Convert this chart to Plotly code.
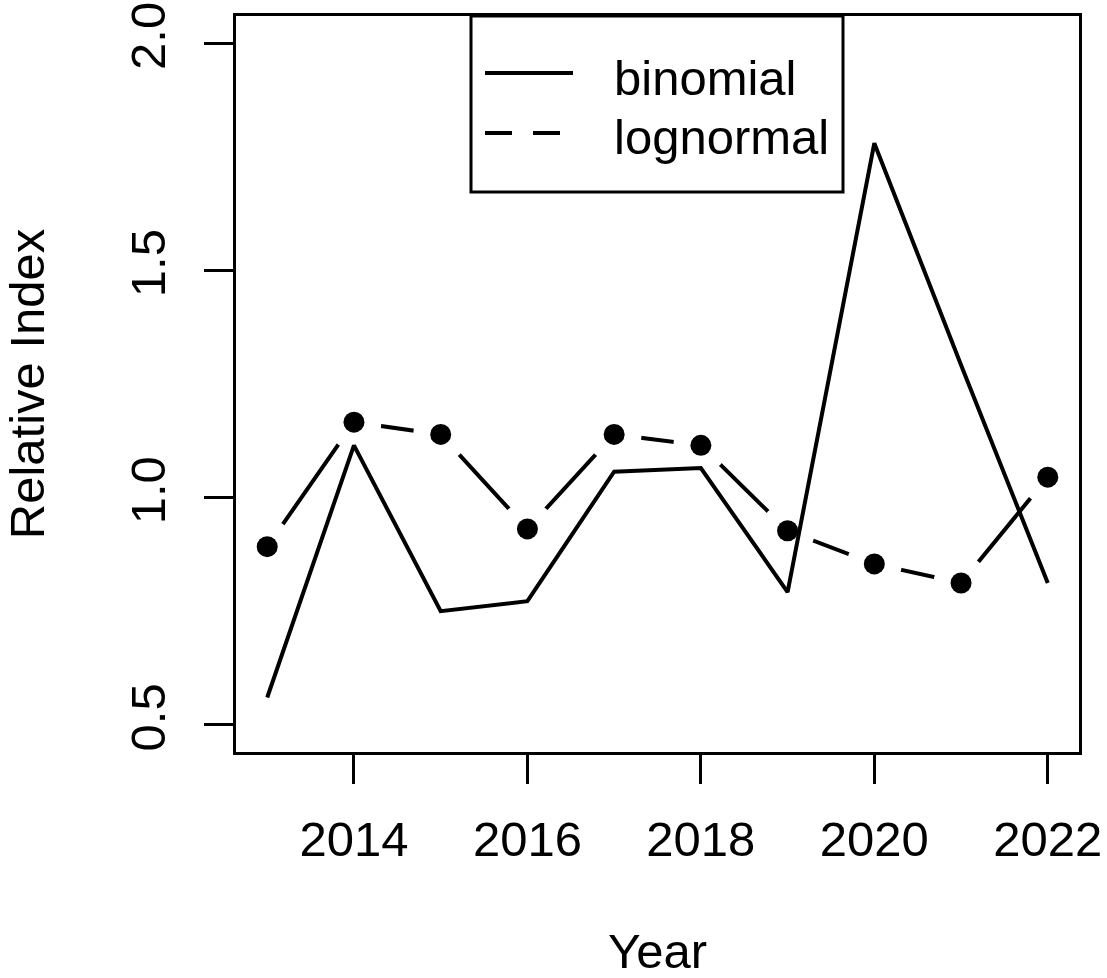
import plotly.graph_objects as go

years = [2013, 2014, 2015, 2016, 2017, 2018, 2019, 2020, 2021, 2022]
binomial = [0.56, 1.115, 0.75, 0.772, 1.057, 1.065, 0.792, 1.78, 1.292, 0.812]
lognormal = [0.892, 1.166, 1.139, 0.931, 1.139, 1.115, 0.927, 0.854, 0.812, 1.045]
x_ticks = [2014, 2016, 2018, 2020, 2022]
y_ticks = [0.5, 1.0, 1.5, 2.0]
legend_labels = ["binomial", "lognormal"]

W, H = 1107, 978
L, R, T, B = 236, 1079, 16, 752  # plot box in pixels
FONT = "Liberation Sans, Arial, sans-serif"
FS = 49


def px(x):
    return (x - L) / (R - L)


def py(y):
    return (B - y) / (B - T)


fig = go.Figure()
# lognormal (type "b": line broken around each point)
fig.add_trace(go.Scatter(x=years, y=lognormal, mode="lines",
                         line=dict(color="black", width=4),
                         showlegend=False, hoverinfo="skip"))
fig.add_trace(go.Scatter(x=years, y=lognormal, mode="markers",
                         marker=dict(color="white", size=55, line=dict(width=0)),
                         showlegend=False, hoverinfo="skip"))
fig.add_trace(go.Scatter(x=years, y=lognormal, mode="markers",
                         marker=dict(color="black", size=21, line=dict(width=0)),
                         showlegend=False, name=legend_labels[1]))
fig.add_trace(go.Scatter(x=years, y=binomial, mode="lines",
                         line=dict(color="black", width=4),
                         showlegend=False, name=legend_labels[0]))

shapes = [
    dict(type="rect", xref="paper", yref="paper", x0=px(471), x1=px(843),
         y0=py(192), y1=py(16), line=dict(color="black", width=3), layer="above"),
    dict(type="line", xref="paper", yref="paper", x0=px(485), x1=px(573),
         y0=py(73), y1=py(73), line=dict(color="black", width=4), layer="above"),
    dict(type="line", xref="paper", yref="paper", x0=px(485), x1=px(573),
         y0=py(133), y1=py(133), line=dict(color="black", width=4, dash="27px,21px"),
         layer="above"),
]
annotations = [
    dict(xref="paper", yref="paper", x=px(612), y=py(78), text=legend_labels[0],
         showarrow=False, xanchor="left", yanchor="middle",
         font=dict(family=FONT, size=FS, color="black")),
    dict(xref="paper", yref="paper", x=px(612), y=py(137), text=legend_labels[1],
         showarrow=False, xanchor="left", yanchor="middle",
         font=dict(family=FONT, size=FS, color="black")),
]

fig.update_layout(
    width=W, height=H,
    margin=dict(l=L, r=W - R, t=T, b=H - B, autoexpand=False),
    paper_bgcolor="white", plot_bgcolor="white",
    font=dict(family=FONT, size=FS, color="black"),
    shapes=shapes, annotations=annotations,
    xaxis=dict(range=[2012.64, 2022.36], tickvals=x_ticks,
               ticktext=[str(v) for v in x_ticks],
               showgrid=False, zeroline=False, showline=True, mirror=True,
               linecolor="black", linewidth=3, ticks="outside", ticklen=29,
               tickwidth=3, tickcolor="black", ticklabelstandoff=13,
               tickfont=dict(family=FONT, size=FS),
               title=dict(text="Year", standoff=76,
                          font=dict(family=FONT, size=FS)),
               automargin=False),
    yaxis=dict(range=[0.44, 2.06], tickvals=y_ticks,
               ticktext=["%.1f" % v for v in y_ticks], tickangle=-90,
               showgrid=False, zeroline=False, showline=True, mirror=True,
               linecolor="black", linewidth=3, ticks="outside", ticklen=29,
               tickwidth=3, tickcolor="black", ticklabelstandoff=19,
               tickfont=dict(family=FONT, size=FS),
               title=dict(text="Relative Index", standoff=66,
                          font=dict(family=FONT, size=FS)),
               automargin=False),
)

fig.write_html("out.html")
